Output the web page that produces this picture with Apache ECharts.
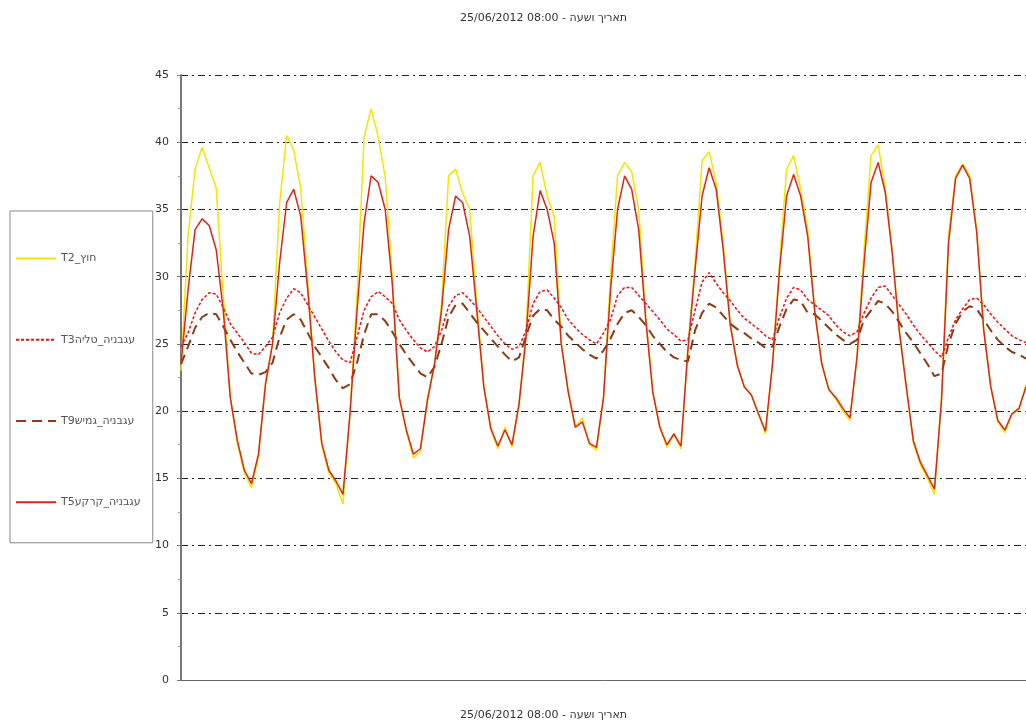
<!DOCTYPE html>
<html>
<head>
<meta charset="utf-8">
<script src="https://cdn.jsdelivr.net/npm/echarts@6/dist/echarts.min.js"></script>
<style>html,body{margin:0;padding:0;background:#fff;}#c{width:1026px;height:727px;}</style>
</head>
<body>
<div id="c"></div>
<script>
const titleText = "25/06/2012 08:00 - תאריך ושעה";
const axisTitle = "25/06/2012 08:00 - תאריך ושעה";
const seriesNames = ["T2_חוץ", "T3עגבניה_טליה", "T9עגבניה_גמיש", "T5עגבניה_קרקע"];
const yTicks = [0, 5, 10, 15, 20, 25, 30, 35, 40, 45];

// two-hourly readings over ten days
const t2 = [23,33,38,39.6,38.1,36.6,28.6,21.1,17.6,15.4,14.3,16.6,
  22.1,25.1,35.4,40.5,39.4,36.6,29.6,22.4,17.4,15.4,14.6,13.1,
  19.9,28.6,40.4,42.5,40.4,37.4,30,21,18.5,16.5,17,21,
  23.5,28,37.5,38,36.2,35,28,21.9,18.6,17.2,18.8,17.3,
  20.5,25.8,37.5,38.5,36,34.5,25,21.5,18.8,19.5,17.5,17.1,
  21,30,37.5,38.5,37.8,35,27,21.5,18.8,17.3,18.3,17.2,
  24.8,31,38.6,39.3,37,32.5,26.5,23.5,21.8,21.2,19.8,18.3,
  23.5,31,38,39,36.5,33.5,27.5,23.5,21.6,20.9,20,19.3,
  24,32,39,39.8,36.6,32,26,21.8,17.6,16,15,13.8,
  21,33,37.5,38.4,37.5,33.5,26,21.8,19.2,18.4,19.8,20.1,22];
const t3 = [24.8,25.8,27.3,28.3,28.8,28.7,27.7,26.5,25.8,25.1,24.3,24.2,
  24.8,25.5,27.3,28.4,29.1,28.8,27.9,27,26.1,25.2,24.4,23.8,
  23.6,25.5,27.5,28.5,28.9,28.5,28,26.8,26,25.3,24.7,24.4,
  24.8,26,27.8,28.6,28.8,28.3,27.7,27,26.3,25.6,25,24.6,
  24.8,26,28,28.9,29,28.4,27.7,26.8,26.2,25.7,25.3,25,
  25.8,26.8,28.6,29.2,29.2,28.6,28,27.4,26.8,26.1,25.7,25.2,
  25.3,27.5,29.6,30.3,29.5,28.8,28.2,27.5,26.9,26.5,26.1,25.6,
  25.3,27,28.4,29.2,29,28.3,27.9,27.5,27.1,26.4,25.9,25.6,
  25.9,27.3,28.4,29.2,29.3,28.6,27.9,27.2,26.4,25.7,25.1,24.5,
  24,25.5,26.8,27.6,28.3,28.4,27.9,27.2,26.6,26.1,25.6,25.3,25.1];
const t9 = [23.5,24.8,26.2,27,27.3,27.2,26.3,25.3,24.4,23.6,22.8,22.7,
  22.9,23.6,25.5,26.8,27.2,26.8,25.8,24.8,24,23.2,22.3,21.7,
  22,23.6,25.7,27.2,27.2,26.7,25.9,25,24.2,23.5,22.8,22.5,
  23.3,25,27,27.9,28,27.3,26.6,26,25.4,24.8,24.2,23.7,
  24,25.6,27.1,27.6,27.5,26.8,26.3,25.6,25.1,24.6,24.2,23.9,
  24.5,25.4,26.5,27.3,27.5,27,26.4,25.6,25,24.4,24,23.8,
  23.7,26,27.3,28,27.7,27.1,26.5,26.1,25.8,25.4,25.1,24.7,
  24.8,26.3,27.6,28.3,28.2,27.3,27.2,26.7,26.2,25.7,25.3,25,
  25.3,26.8,27.5,28.2,28,27.4,26.6,25.8,25.1,24.3,23.5,22.6,
  22.8,25,26.5,27.4,27.8,27.6,26.8,26,25.3,24.8,24.4,24.2,23.9];
const t5 = [23.5,29,33.5,34.3,33.8,32,27.5,21,17.8,15.6,14.6,16.8,
  22,25,31,35.5,36.5,34.5,29,22.5,17.6,15.6,14.8,13.8,
  19.8,27.5,34,37.5,37,35,29.5,21,18.6,16.8,17.2,20.8,
  23.5,27.5,33.5,36,35.5,33,27.5,21.8,18.7,17.4,18.6,17.5,
  20.5,25.5,33,36.4,35,32.5,25,21.4,18.8,19.2,17.6,17.3,
  21,29,35,37.5,36.5,33.5,26.8,21.4,18.8,17.5,18.3,17.4,
  24.6,30.5,36,38.1,36.5,32,26.4,23.4,21.8,21.2,19.8,18.5,
  23.5,30.5,36,37.6,36,33,27.4,23.5,21.6,21,20.2,19.5,
  24,31,37,38.5,36.3,31.8,26,21.8,17.8,16.2,15.2,14.2,
  20.8,32.5,37.3,38.3,37.3,33.3,26,21.8,19.3,18.6,19.8,20.2,21.8];

const hours = t2.map((_, i) => String(i * 2));

const chart = echarts.init(document.getElementById('c'), null, {renderer: 'canvas'});
chart.setOption({
  backgroundColor: '#ffffff',
  animation: false,
  title: [
    {text: titleText, left: 455, top: 8, textStyle: {fontSize: 11, fontWeight: 'normal', color: '#333', fontFamily: 'DejaVu Sans'}},
    {text: axisTitle, left: 455, top: 705, textStyle: {fontSize: 11, fontWeight: 'normal', color: '#333', fontFamily: 'DejaVu Sans'}}
  ],
  legend: {
    orient: 'vertical',
    left: 10, top: 211,
    width: 142,
    padding: [42, 12, 35, 5],
    itemGap: 70,
    itemWidth: 40, itemHeight: 14,
    borderColor: '#888', borderWidth: 1,
    itemStyle: {opacity: 0},
    textStyle: {fontSize: 11, color: '#555', fontFamily: 'DejaVu Sans'},
    data: seriesNames
  },
  grid: {left: 181, top: 75, right: 0, bottom: 47, containLabel: false},
  xAxis: {
    type: 'category', data: hours, boundaryGap: false,
    axisLine: {lineStyle: {color: '#666', width: 1}},
    axisTick: {show: false}, axisLabel: {show: false}, splitLine: {show: false}
  },
  yAxis: {
    type: 'value', min: 0, max: 45, interval: 5,
    axisLine: {show: true, lineStyle: {color: '#777', width: 2}},
    axisTick: {show: true, length: 4, lineStyle: {color: '#777'}},
    minorTick: {show: true, splitNumber: 2, length: 3, lineStyle: {color: '#999'}},
    axisLabel: {fontSize: 11, color: '#333', margin: 12, fontFamily: 'DejaVu Sans',
      formatter: v => yTicks.includes(v) ? String(v) : ''},
    splitLine: {show: true, lineStyle: {color: '#222', width: 1, type: [7, 4, 2, 4]}}
  },
  series: [
    {name: seriesNames[0], type: 'line', data: t2, symbol: 'none', showSymbol: false,
      lineStyle: {color: '#f2e600', width: 1.5}, itemStyle: {color: '#f2e600'}, z: 2},
    {name: seriesNames[1], type: 'line', data: t3, symbol: 'none', showSymbol: false,
      lineStyle: {color: '#ee1111', width: 1.5, type: [3, 2]}, itemStyle: {color: '#ee1111'}, z: 3},
    {name: seriesNames[2], type: 'line', data: t9, symbol: 'none', showSymbol: false,
      lineStyle: {color: '#8b3a12', width: 2, type: [10, 6]}, itemStyle: {color: '#8b3a12'}, z: 3},
    {name: seriesNames[3], type: 'line', data: t5, symbol: 'none', showSymbol: false,
      lineStyle: {color: '#d8261a', width: 1.5}, itemStyle: {color: '#d8261a'}, z: 4}
  ]
});
</script>
</body>
</html>
